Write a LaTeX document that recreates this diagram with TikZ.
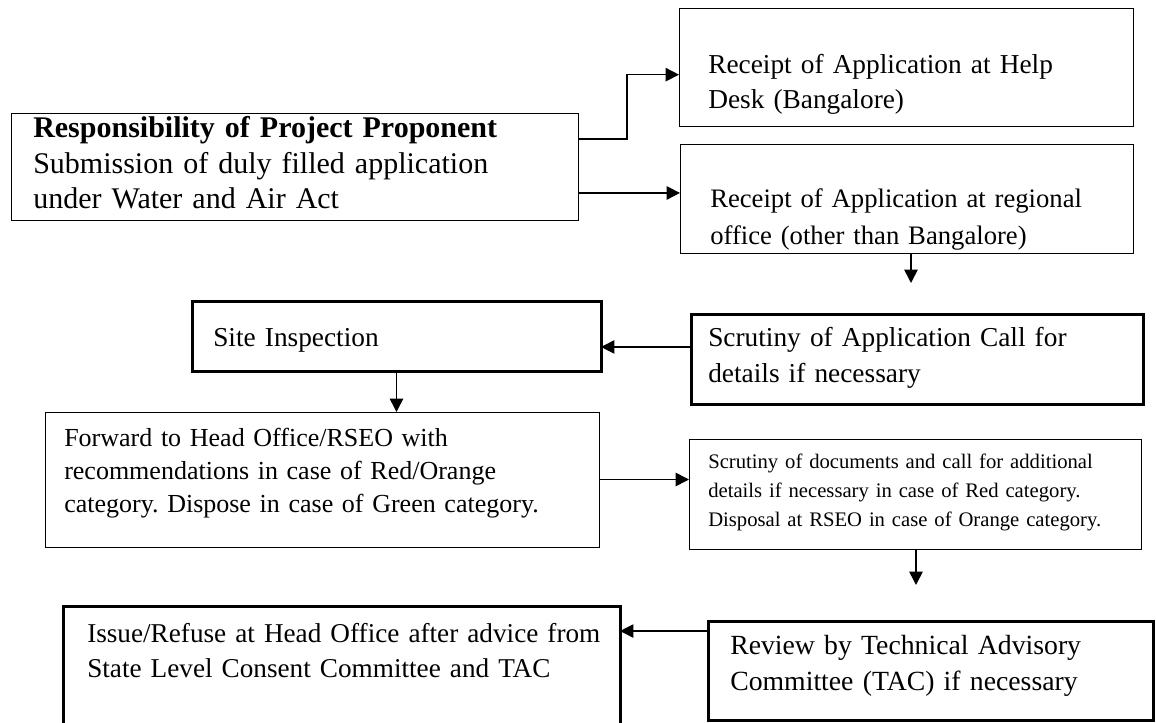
\documentclass[tikz,border=0pt]{standalone}
\usepackage{fontspec}
\setmainfont{Liberation Serif}
\usetikzlibrary{arrows.meta}
\frenchspacing

\tikzset{
  box/.style={draw, line width=.75pt, anchor=north west, inner sep=0pt, outer sep=0pt},
  thickbox/.style={box, line width=2.25pt},
  dim/.style 2 args={minimum width=#1*.75pt, minimum height=#2*.75pt},
  txt/.style={anchor=base west, inner sep=0pt, align=left, text width=25cm},
  arr/.style={-{Triangle[length=10pt,width=10pt]}, line width=1.2pt},
  thinarr/.style={arr, line width=.9pt},
}

\begin{document}
\begin{tikzpicture}[x=.75pt,y=-.75pt]
\useasboundingbox (0,0) rectangle (1156,723);
\clip (0,0) rectangle (1156,723);
% boxes
\node[box, dim={567}{107}] (prop) at (11,114) {};
\node[box, dim={454}{118}] (help) at (679,9) {};
\node[box, dim={453}{109}] (regional) at (680,145) {};
\node[thickbox, dim={452}{89}] (scrut) at (691,315) {};
\node[thickbox, dim={409}{70}] (site) at (192,302) {};
\node[box, dim={554}{135}] (fwd) at (45,412) {};
\node[box, dim={452}{110}] (docs) at (689,439) {};
\node[thickbox, dim={557}{125}] (issue) at (63,606) {};
\node[thickbox, dim={445}{99}] (review) at (708,621) {};
% texts
\node[txt, font=\fontsize{22.5}{26.6}\selectfont] (proptxt) at (33,138) {\textbf{Responsibility of Project Proponent}\\Submission of duly filled application\\under Water and Air Act};
\node[txt, font=\fontsize{20.5}{26.25}\selectfont] (helptxt) at (708,74) {Receipt of Application at Help\\Desk (Bangalore)};
\node[txt, font=\fontsize{20}{27.75}\selectfont] (regionaltxt) at (710,208) {Receipt of Application at regional\\office (other than Bangalore)};
\node[txt, font=\fontsize{20.5}{27}\selectfont] (scruttxt) at (708,347) {Scrutiny of Application Call for\\details if necessary};
\node[txt, font=\fontsize{20.5}{26}\selectfont] (sitetxt) at (213,347) {Site Inspection};
\node[txt, font=\fontsize{19.5}{25}\selectfont] (fwdtxt) at (64,446) {Forward to Head Office/RSEO with\\recommendations in case of Red/Orange\\category. Dispose in case of Green category.};
\node[txt, font=\fontsize{15.5}{21.75}\selectfont] (docstxt) at (708,468) {Scrutiny of documents and call for additional\\details if necessary in case of Red category.\\Disposal at RSEO in case of Orange category.};
\node[txt, font=\fontsize{20.4}{26.25}\selectfont] (issuetxt) at (87,642) {Issue/Refuse at Head Office after advice from\\State Level Consent Committee and TAC};
\node[txt, font=\fontsize{20.8}{27}\selectfont] (reviewtxt) at (730,654) {Review by Technical Advisory\\Committee (TAC) if necessary};
% connectors
\coordinate (regend) at (911,283);
\coordinate (docsend) at (916,585);
\draw[arr] ([yshift=21.4pt]prop.east) -- ++(49,0) |- ([yshift=-5pt]help.west);
\draw[arr] ([yshift=-19.1pt]prop.east) -- ([yshift=-19.1pt]prop.east -| regional.west);
\draw[arr] (regional.south -| regend) -- (regend);
\draw[thinarr] ([yshift=9.4pt]scrut.west) -- ([yshift=9.4pt]scrut.west -| site.east);
\draw[arr] (site.south) -- (site.south |- fwd.north);
\draw[arr] (fwd.east) -- (fwd.east -| docs.west);
\draw[arr] (docs.south -| docsend) -- (docsend);
\draw[thinarr] ([yshift=29.6pt]review.west) -- ([yshift=29.6pt]review.west -| issue.east);
\end{tikzpicture}
\end{document}
